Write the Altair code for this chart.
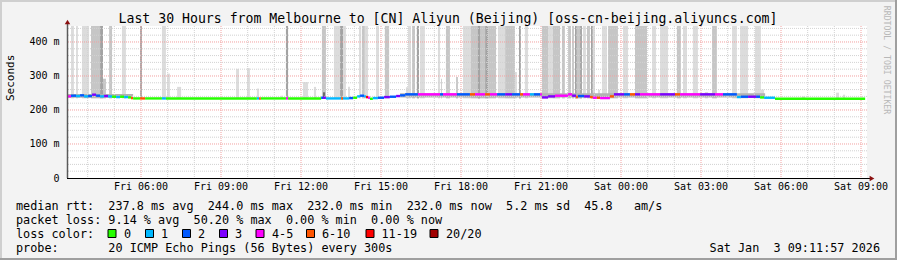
import altair as alt
import pandas as pd

# ---------------- data ----------------
title_text = "Last 30 Hours from Melbourne to [CN] Aliyun (Beijing) [oss-cn-beijing.aliyuncs.com]"
# time axis: hours since Fri 03:13:30, 30 hours shown
span_hours = 30
first_full_hour = 0.775          # Fri 04:00
first_hour_of_day = 4
x_tick_labels = ["Fri 06:00", "Fri 09:00", "Fri 12:00", "Fri 15:00", "Fri 18:00",
                 "Fri 21:00", "Sat 00:00", "Sat 03:00", "Sat 06:00", "Sat 09:00"]
x_tick_hours = [2.775, 5.775, 8.775, 11.775, 14.775, 17.775, 20.775, 23.775, 26.775, 29.775]

# smoke bars: hours since start, top value (ms), shade class
smoke_start = [0.15, 0.34, 0.56, 0.90, 1.24, 1.35, 1.58, 2.06, 2.74, 3.56, 3.75, 4.13, 6.34, 6.75, 7.12, 8.02,
               8.21, 8.85, 9.26, 9.56, 9.60, 10.01, 10.24, 10.35, 10.54, 10.95, 11.06, 11.17, 11.59, 11.92,
               12.71, 12.79, 12.94, 13.12, 13.24, 13.91, 14.03, 14.21, 14.59, 14.85, 15.15, 15.30, 15.41,
               15.68, 15.79, 16.16, 16.43, 16.80, 16.95, 17.17, 17.81, 18.04, 18.22, 18.56, 18.79, 18.94,
               19.05, 19.12, 19.24, 19.35, 19.50, 19.65, 19.72, 19.91, 20.06, 20.29, 20.85, 21.30, 21.94,
               22.24, 22.87, 23.10, 23.47, 23.92, 24.19, 24.94, 25.24, 25.80, 26.02, 27.56, 28.84, 29.10]
smoke_end = [0.26, 0.41, 0.83, 1.24, 1.35, 1.46, 1.69, 2.21, 2.81, 3.71, 3.86, 4.28, 6.45, 6.86, 7.20, 8.10,
             8.29, 9.04, 9.34, 9.71, 9.68, 10.24, 10.35, 10.46, 10.61, 11.03, 11.17, 11.29, 11.70, 12.08,
             12.79, 12.90, 13.05, 13.20, 13.42, 13.99, 14.06, 14.36, 14.66, 15.15, 15.30, 15.68, 15.49,
             15.79, 16.09, 16.43, 16.80, 16.87, 17.02, 17.29, 18.04, 18.22, 18.49, 18.67, 18.90, 19.01,
             19.12, 19.24, 19.31, 19.46, 19.61, 19.72, 19.80, 19.99, 20.25, 20.66, 21.04, 21.75, 22.09,
             22.54, 23.02, 23.25, 23.66, 24.04, 24.37, 25.12, 25.54, 26.02, 26.14, 27.68, 28.95, 29.18]
smoke_top = [447, 447, 447, 447, 447, 292, 447, 447, 447, 447, 307, 268, 321, 323, 263, 242,
             447, 282, 268, 447, 252, 447, 447, 447, 268, 447, 447, 447, 447, 447,
             267, 447, 447, 447, 447, 447, 292, 447, 297, 447, 447, 447, 447,
             447, 447, 447, 447, 312, 447, 447, 447, 447, 447, 447, 447, 447,
             447, 447, 447, 447, 447, 447, 447, 259, 447, 447, 447, 447, 447,
             447, 447, 447, 447, 253, 447, 447, 447, 447, 260, 240, 251, 245]
smoke_shade = ["L", "L", "L", "M", "D", "M", "M", "L", "D", "L", "L", "L", "L", "L", "L", "L",
               "D", "L", "L", "M", "X", "L", "D", "L", "L", "L", "M", "L", "L", "M",
               "L", "L", "M", "D", "L", "L", "M", "M", "M", "L", "M", "M", "D",
               "D", "M", "L", "M", "L", "D", "L", "M", "L", "M", "M", "M", "M",
               "D", "M", "D", "L", "M", "D", "L", "L", "L", "M", "L", "M", "L",
               "L", "M", "L", "L", "L", "M", "L", "L", "L", "L", "L", "L", "L"]
smoke_floor = 234

# dense smoke band around the median
band_start = [0.00, 12.49]
band_end = [2.48, 26.18]
band_low = [236, 237]
band_high = [247, 249]

# median rtt segments: hours since start, value (ms), loss bucket
med_start = [0.00, 0.15, 0.34, 0.49, 0.64, 0.79, 0.94, 1.09, 1.24, 1.39, 1.54, 1.69, 1.84, 1.99, 2.14,
             2.29, 2.40, 2.48, 2.74, 2.93, 3.56, 3.71, 7.12, 7.20, 7.27, 8.21, 8.29, 9.53, 9.60, 9.71,
             10.28, 10.35, 10.58, 10.73, 10.88, 10.99, 11.14, 11.21, 11.29, 11.36, 11.47, 11.66, 11.89,
             12.11, 12.34, 12.49, 12.68, 13.16, 13.99, 14.10, 14.62, 15.11, 15.30, 15.68, 15.86, 16.13,
             16.43, 16.69, 16.99, 17.10, 17.36, 17.51, 17.74, 17.81, 18.04, 18.30, 18.79, 18.94, 19.09,
             19.16, 19.39, 19.61, 19.72, 19.87, 19.99, 20.36, 20.51, 20.89, 21.11, 21.30, 21.49, 22.24,
             22.80, 22.99, 23.74, 24.30, 24.60, 25.12, 25.27, 25.54, 25.84, 25.99, 26.14, 26.55]
med_end_last = 29.93
med_value = [240, 242, 241, 243, 240, 241, 245, 242, 240, 241, 240, 239, 238, 239, 238,
             237, 235, 234, 234, 234, 234, 234, 234, 234, 234, 234, 234, 236, 236, 234,
             234, 234, 235, 236, 240, 242, 240, 238, 236, 233, 235, 236, 238,
             239, 241, 243, 246, 246, 246, 246, 246, 246, 246, 246, 246, 246,
             246, 246, 246, 246, 246, 246, 246, 237, 240, 242, 246, 242, 238,
             241, 240, 238, 236, 236, 235, 240, 246, 246, 246, 246, 246, 246,
             246, 246, 246, 246, 246, 238, 239, 239, 239, 237, 236, 233]
med_loss = ["4-5", "2", "1", "2", "1", "2", "3", "2", "1", "3", "1", "0", "1", "0", "1",
            "0", "6-10", "0", "6-10", "0", "1", "0", "1", "6-10", "0", "4-5", "0", "2", "3", "1",
            "6-10", "1", "2", "0", "1", "2", "1", "11-19", "4-5", "0", "1", "2", "3",
            "2", "3", "2", "2", "4-5", "2", "4-5", "2", "6-10", "4-5", "6-10", "4-5", "2",
            "3", "2", "6-10", "4-5", "1", "2", "4-5", "3", "3", "4-5", "4-5", "3", "6-10",
            "2", "3", "6-10", "4-5", "6-10", "4-5", "6-10", "3", "2", "6-10", "3", "4-5", "3",
            "6-10", "4-5", "3", "4-5", "2", "1", "2", "3", "2", "0", "1", "0"]

loss_labels = ["0", "1", "2", "3", "4-5", "6-10", "11-19", "20/20"]
loss_colors = ["#26ff00", "#00b8ff", "#0059ff", "#7e00ff", "#ff00ff", "#ff5500", "#ff0000", "#a10000"]

y_ticks = [0, 100, 200, 300, 400]

legend_lines = [
    "median rtt:  237.8 ms avg  244.0 ms max  232.0 ms min  232.0 ms now  5.2 ms sd  45.8   am/s",
    "packet loss: 9.14 % avg  50.20 % max  0.00 % min  0.00 % now",
    "loss color:",
    "probe:       20 ICMP Echo Pings (56 Bytes) every 300s",
]
date_text = "Sat Jan  3 09:11:57 2026"

# ---------------- styling / layout ----------------
MONO = "DejaVu Sans Mono"
NB = "\u00a0"
SHADES = {"L": "#dcdcdc", "M": "#c6c6c6", "D": "#a3a3a3", "X": "#6a6a6a"}
GRID_MINOR = "#d2d2d2"
GRID_MAJOR = "#f2a0a0"
AXIS_FS = 10
LEG_FS = 11.8
W, H = 800, 152
PAD_L, PAD_T = 67, 26
line_y = [179.5, 193.5, 207.5, 221.5]
swatch_x = [45, 82.5, 119.5, 156.5, 193, 243.5, 303, 367]
swatch_label_x = [57, 94, 131, 168, 205, 255, 314.5, 379]

smoke_df = pd.DataFrame({
    "t0": smoke_start, "t1": smoke_end,
    "lo": [smoke_floor] * len(smoke_start), "hi": smoke_top,
    "fill": [SHADES[s] for s in smoke_shade],
})
band_df = pd.DataFrame({"t0": band_start, "t1": band_end, "lo": band_low, "hi": band_high})
med_end = med_start[1:] + [med_end_last]
assert len(med_start) == len(med_value) == len(med_loss)
assert len(smoke_start) == len(smoke_end) == len(smoke_top) == len(smoke_shade)
med_df = pd.DataFrame({"t0": med_start, "t1": med_end, "v": med_value, "loss": med_loss})
xtick_df = pd.DataFrame({"t": x_tick_hours, "label": x_tick_labels})

# grid positions (every full hour vertically, every 20 ms horizontally)
vgrid = pd.DataFrame({"t": [first_full_hour + k for k in range(span_hours)],
                      "major": [(first_hour_of_day + k) % 3 == 0 for k in range(span_hours)]})
hgrid = pd.DataFrame({"v": list(range(20, 441, 20))})
hgrid["major"] = hgrid["v"] % 100 == 0

x_scale = alt.Scale(domain=[0, span_hours], nice=False, zero=False)
y_scale = alt.Scale(domain=[0, 447], nice=False, zero=True)
y_axis = alt.Axis(
    title=None, values=y_ticks,
    labelExpr="datum.value == 0 ? '0' : datum.value + ' m'",
    labelOverlap=False, labelFont=MONO, labelFontSize=AXIS_FS, labelColor="#000000",
    labelPadding=8, ticks=False, domain=False, grid=False,
)

X0 = alt.X("t0:Q", scale=x_scale, axis=None)

smoke = alt.Chart(smoke_df).mark_rect(clip=True).encode(
    x=X0, x2="t1:Q",
    y=alt.Y("lo:Q", scale=y_scale, axis=y_axis), y2="hi:Q",
    fill=alt.Fill("fill:N", scale=None),
)
band = alt.Chart(band_df).mark_rect(color="#b2b2b2").encode(
    x=X0, x2="t1:Q",
    y=alt.Y("lo:Q", scale=y_scale, axis=y_axis), y2="hi:Q",
)
median = alt.Chart(med_df).mark_rule(strokeWidth=2.4, strokeCap="butt").encode(
    x=X0, x2="t1:Q",
    y=alt.Y("v:Q", scale=y_scale, axis=y_axis),
    color=alt.Color("loss:N", scale=alt.Scale(domain=loss_labels, range=loss_colors), legend=None),
)
vg = alt.Chart(vgrid).mark_rule(strokeWidth=1, strokeDash=[1, 1]).encode(
    x=alt.X("t:Q", scale=x_scale, axis=None),
    color=alt.condition("datum.major", alt.value(GRID_MAJOR), alt.value(GRID_MINOR)),
)
hg = alt.Chart(hgrid).mark_rule(strokeWidth=1, strokeDash=[1, 1]).encode(
    y=alt.Y("v:Q", scale=y_scale, axis=y_axis),
    color=alt.condition("datum.major", alt.value(GRID_MAJOR), alt.value(GRID_MINOR)),
)
xlabels = alt.Chart(xtick_df).mark_text(font=MONO, fontSize=AXIS_FS, color="#000000",
                                        baseline="middle", align="center").encode(
    x=alt.X("t:Q", scale=x_scale, axis=None),
    y=alt.value(H + 9),
    text="label:N",
)

one = pd.DataFrame({"a": [0]})


def rule(x, x2, y, y2, color, width):
    return alt.Chart(one).mark_rule(color=color, strokeWidth=width).encode(
        x=alt.value(x), x2=alt.value(x2), y=alt.value(y), y2=alt.value(y2))


def text(s, x, y, size=LEG_FS, align="left", color="#000000", angle=0, font=MONO):
    return alt.Chart(one).mark_text(text=s.replace(" ", NB), align=align, baseline="middle", font=font,
                                    fontSize=size, color=color, angle=angle).encode(
        x=alt.value(x), y=alt.value(y))


layers = [smoke, band, vg, hg, median, xlabels]
# axes lines and arrows
layers.append(rule(0, 805, H + 0.5, H + 0.5, "#000000", 1))
layers.append(rule(0.5, 0.5, H, -3, "#5a5a5a", 1.5))
layers.append(alt.Chart(one).mark_point(shape="triangle-up", filled=True, size=30, color="#8b1010", opacity=1)
              .encode(x=alt.value(0.5), y=alt.value(-4)))
layers.append(alt.Chart(one).mark_point(shape="triangle-right", filled=True, size=30, color="#8b1010", opacity=1)
              .encode(x=alt.value(805), y=alt.value(H + 0.5)))
# frame of the canvas
layers.append(rule(-PAD_L, 897 - PAD_L, -PAD_T + 1, -PAD_T + 1, "#cfcfcf", 2))
layers.append(rule(-PAD_L + 1, -PAD_L + 1, -PAD_T, 260 - PAD_T, "#cfcfcf", 2))
layers.append(rule(-PAD_L, 897 - PAD_L, 260 - PAD_T - 1, 260 - PAD_T - 1, "#9f9f9f", 2))
layers.append(rule(897 - PAD_L - 1, 897 - PAD_L - 1, -PAD_T, 260 - PAD_T, "#9f9f9f", 2))
# texts
layers.append(text(title_text, 448 - PAD_L, 19 - PAD_T, size=13.2, align="center"))
layers.append(text("Seconds", 11 - PAD_L, 101 - PAD_T, size=11, angle=270))
layers.append(text("RRDTOOL / TOBI OETIKER", 886 - PAD_L, 60 - PAD_T, size=8.2, align="center",
                   color="#b8b8b8", angle=90))
for s, y in zip(legend_lines, line_y):
    layers.append(text(s, 16 - PAD_L, y))
layers.append(text(date_text, 880 - PAD_L, line_y[3], align="right"))
for lab, col, sx, lx in zip(loss_labels, loss_colors, swatch_x, swatch_label_x):
    layers.append(alt.Chart(one).mark_rect(color=col, stroke="#000000", strokeWidth=1).encode(
        x=alt.value(sx - 4), x2=alt.value(sx + 4), y=alt.value(line_y[2] - 4), y2=alt.value(line_y[2] + 4)))
    layers.append(text(lab, lx, line_y[2]))

chart = alt.layer(*layers).properties(
    width=W, height=H,
    autosize=alt.AutoSizeParams(type="none"),
    padding={"left": PAD_L, "top": PAD_T, "right": 897 - PAD_L - W, "bottom": 260 - PAD_T - H},
    background="#f3f3f3",
).configure_view(fill="#ffffff", stroke=None)

chart.save("out.html", embed_options={"renderer": "svg", "actions": False})
